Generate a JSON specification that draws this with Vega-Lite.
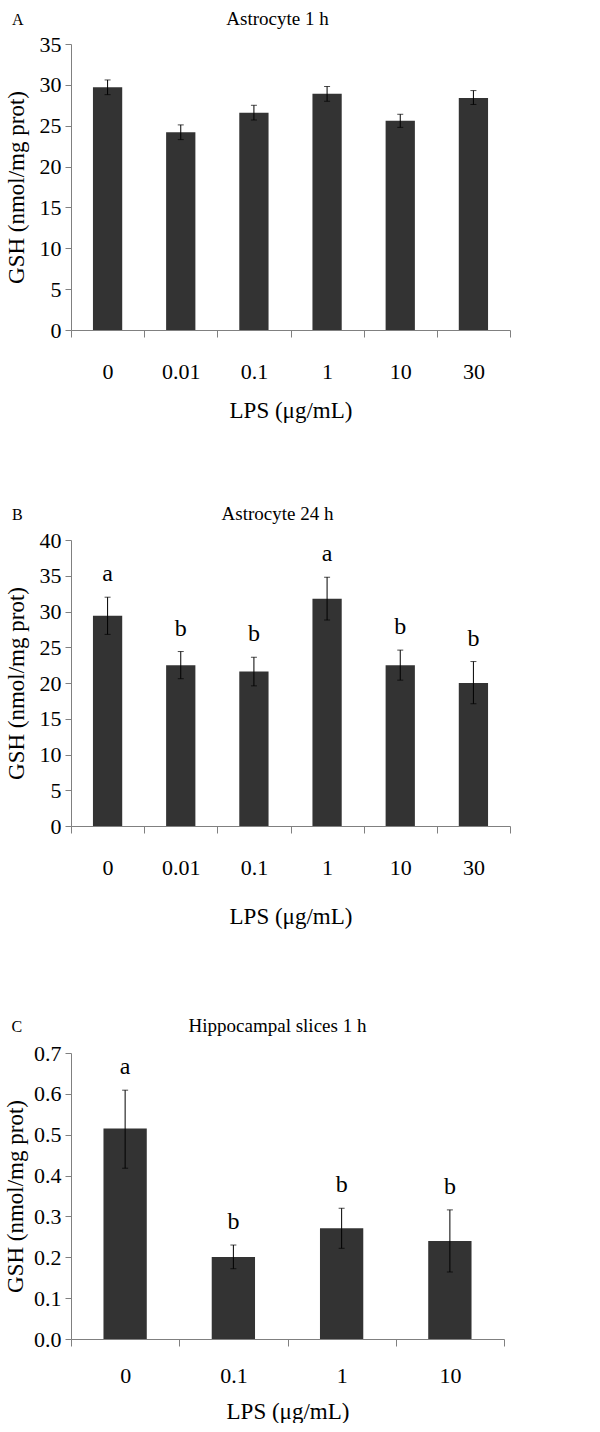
{
  "$schema": "https://vega.github.io/schema/vega-lite/v6.json",
  "padding": {"top": 10, "left": 4, "right": 0, "bottom": 0},
  "spacing": 89,
  "config": {
    "font": "Liberation Serif",
    "view": {"stroke": null},
    "axis": {"domainColor": "#808080", "tickColor": "#808080", "labelFont": "Liberation Serif", "titleFont": "Liberation Serif", "labelFontSize": 22, "titleFontSize": 23, "labelColor": "black", "titleColor": "black", "titleFontWeight": "normal", "grid": false},
    "title": {"font": "Liberation Serif", "fontWeight": "normal", "fontSize": 19, "color": "black"}
  },
  "vconcat": [
    {
      "spacing": 83,
      "vconcat": [
        {
          "title": {"text": "A", "anchor": "start", "frame": "bounds", "offset": -31, "baseline": "alphabetic", "fontSize": 16, "dx": 7},
          "vconcat": [
            {
              "width": 439, "height": 286,
              "title": {"text": "Astrocyte  1 h", "offset": -11, "baseline": "alphabetic", "dx": -13},
              "data": {"values": [
                {"lps": "0", "mean": 29.7, "lo": 28.8, "hi": 30.6},
                {"lps": "0.01", "mean": 24.2, "lo": 23.3, "hi": 25.1},
                {"lps": "0.1", "mean": 26.6, "lo": 25.7, "hi": 27.5},
                {"lps": "1", "mean": 28.9, "lo": 28.0, "hi": 29.8},
                {"lps": "10", "mean": 25.6, "lo": 24.8, "hi": 26.4},
                {"lps": "30", "mean": 28.4, "lo": 27.6, "hi": 29.3}
              ]},
              "encoding": {
                "x": {"field": "lps", "type": "ordinal", "sort": null, "scale": {"paddingInner": 0, "paddingOuter": 0},
                      "axis": {"title": "LPS (μg/mL)", "labelAngle": 0, "tickBand": "extent", "tickSize": 7, "labelPadding": 24, "titlePadding": 17}}
              },
              "layer": [
                {"mark": {"type": "bar", "color": "#333333", "width": {"band": 0.4}},
                 "encoding": {"y": {"field": "mean", "type": "quantitative", "title": "GSH (nmol/mg prot)", "scale": {"domain": [0, 35], "nice": false},
                                    "axis": {"values": [0, 5, 10, 15, 20, 25, 30, 35], "tickSize": 6, "labelPadding": 4, "titlePadding": 11}}}},
                {"mark": {"type": "errorbar", "color": "black", "thickness": 1, "ticks": {"size": 6, "thickness": 1, "color": "black"}},
                 "encoding": {"y": {"field": "lo", "type": "quantitative", "title": "GSH (nmol/mg prot)", "scale": {"domain": [0, 35], "nice": false},
                                    "axis": {"values": [0, 5, 10, 15, 20, 25, 30, 35], "tickSize": 6, "labelPadding": 4, "titlePadding": 11}}, "y2": {"field": "hi"}}}
              ]
            }
          ]
        },
        {
          "title": {"text": "B", "anchor": "start", "frame": "bounds", "offset": -31, "baseline": "alphabetic", "fontSize": 16, "dx": 7},
          "vconcat": [
            {
              "width": 439, "height": 286,
              "title": {"text": "Astrocyte 24 h", "offset": -10, "baseline": "alphabetic", "dx": -13},
              "data": {"values": [
                {"lps": "0", "mean": 29.4, "lo": 26.8, "hi": 32.0, "sig": "a"},
                {"lps": "0.01", "mean": 22.5, "lo": 20.6, "hi": 24.4, "sig": "b"},
                {"lps": "0.1", "mean": 21.6, "lo": 19.6, "hi": 23.6, "sig": "b"},
                {"lps": "1", "mean": 31.8, "lo": 28.8, "hi": 34.8, "sig": "a"},
                {"lps": "10", "mean": 22.5, "lo": 20.4, "hi": 24.6, "sig": "b"},
                {"lps": "30", "mean": 20.0, "lo": 17.1, "hi": 23.0, "sig": "b"}
              ]},
              "encoding": {
                "x": {"field": "lps", "type": "ordinal", "sort": null, "scale": {"paddingInner": 0, "paddingOuter": 0},
                      "axis": {"title": "LPS (μg/mL)", "labelAngle": 0, "tickBand": "extent", "tickSize": 7, "labelPadding": 24, "titlePadding": 27}}
              },
              "layer": [
                {"mark": {"type": "bar", "color": "#333333", "width": {"band": 0.4}},
                 "encoding": {"y": {"field": "mean", "type": "quantitative", "title": "GSH (nmol/mg prot)", "scale": {"domain": [0, 40], "nice": false},
                                    "axis": {"values": [0, 5, 10, 15, 20, 25, 30, 35, 40], "tickSize": 6, "labelPadding": 4, "titlePadding": 11}}}},
                {"mark": {"type": "errorbar", "color": "black", "thickness": 1, "ticks": {"size": 6, "thickness": 1, "color": "black"}},
                 "encoding": {"y": {"field": "lo", "type": "quantitative", "title": "GSH (nmol/mg prot)", "scale": {"domain": [0, 40], "nice": false},
                                    "axis": {"values": [0, 5, 10, 15, 20, 25, 30, 35, 40], "tickSize": 6, "labelPadding": 4, "titlePadding": 11}}, "y2": {"field": "hi"}}},
                {"mark": {"type": "text", "baseline": "alphabetic", "dy": -16, "fontSize": 24, "font": "Liberation Serif", "color": "black"},
                 "encoding": {"y": {"field": "hi", "type": "quantitative", "title": "GSH (nmol/mg prot)", "scale": {"domain": [0, 40], "nice": false},
                                    "axis": {"values": [0, 5, 10, 15, 20, 25, 30, 35, 40], "tickSize": 6, "labelPadding": 4, "titlePadding": 11}}, "text": {"field": "sig"}}}
              ]
            }
          ]
        }
      ]
    },
    {
      "title": {"text": "C", "anchor": "start", "frame": "bounds", "offset": -31, "baseline": "alphabetic", "fontSize": 16, "dx": 7},
      "vconcat": [
        {
          "width": 433, "height": 286,
          "title": {"text": "Hippocampal slices 1 h", "offset": -9, "baseline": "alphabetic", "dx": -10},
          "data": {"values": [
            {"lps": "0", "mean": 0.515, "lo": 0.418, "hi": 0.609, "sig": "a"},
            {"lps": "0.1", "mean": 0.201, "lo": 0.172, "hi": 0.23, "sig": "b"},
            {"lps": "1", "mean": 0.271, "lo": 0.222, "hi": 0.32, "sig": "b"},
            {"lps": "10", "mean": 0.24, "lo": 0.164, "hi": 0.316, "sig": "b"}
          ]},
          "encoding": {
            "x": {"field": "lps", "type": "ordinal", "sort": null, "scale": {"paddingInner": 0, "paddingOuter": 0},
                  "axis": {"title": "LPS (μg/mL)", "labelAngle": 0, "tickBand": "extent", "tickSize": 7, "labelPadding": 19, "titlePadding": 14}}
          },
          "layer": [
            {"mark": {"type": "bar", "color": "#333333", "width": {"band": 0.4}},
             "encoding": {"y": {"field": "mean", "type": "quantitative", "title": "GSH (nmol/mg prot)", "scale": {"domain": [0, 0.7], "nice": false},
                                "axis": {"values": [0, 0.1, 0.2, 0.3, 0.4, 0.5, 0.6, 0.7], "format": ".1f", "tickSize": 6, "labelPadding": 4, "titlePadding": 6}}}},
            {"mark": {"type": "errorbar", "color": "black", "thickness": 1, "ticks": {"size": 6, "thickness": 1, "color": "black"}},
             "encoding": {"y": {"field": "lo", "type": "quantitative", "title": "GSH (nmol/mg prot)", "scale": {"domain": [0, 0.7], "nice": false},
                                "axis": {"values": [0, 0.1, 0.2, 0.3, 0.4, 0.5, 0.6, 0.7], "format": ".1f", "tickSize": 6, "labelPadding": 4, "titlePadding": 6}}, "y2": {"field": "hi"}}},
            {"mark": {"type": "text", "baseline": "alphabetic", "dy": -16, "fontSize": 24, "font": "Liberation Serif", "color": "black"},
             "encoding": {"y": {"field": "hi", "type": "quantitative", "title": "GSH (nmol/mg prot)", "scale": {"domain": [0, 0.7], "nice": false},
                                "axis": {"values": [0, 0.1, 0.2, 0.3, 0.4, 0.5, 0.6, 0.7], "format": ".1f", "tickSize": 6, "labelPadding": 4, "titlePadding": 6}}, "text": {"field": "sig"}}}
          ]
        }
      ]
    }
  ]
}
